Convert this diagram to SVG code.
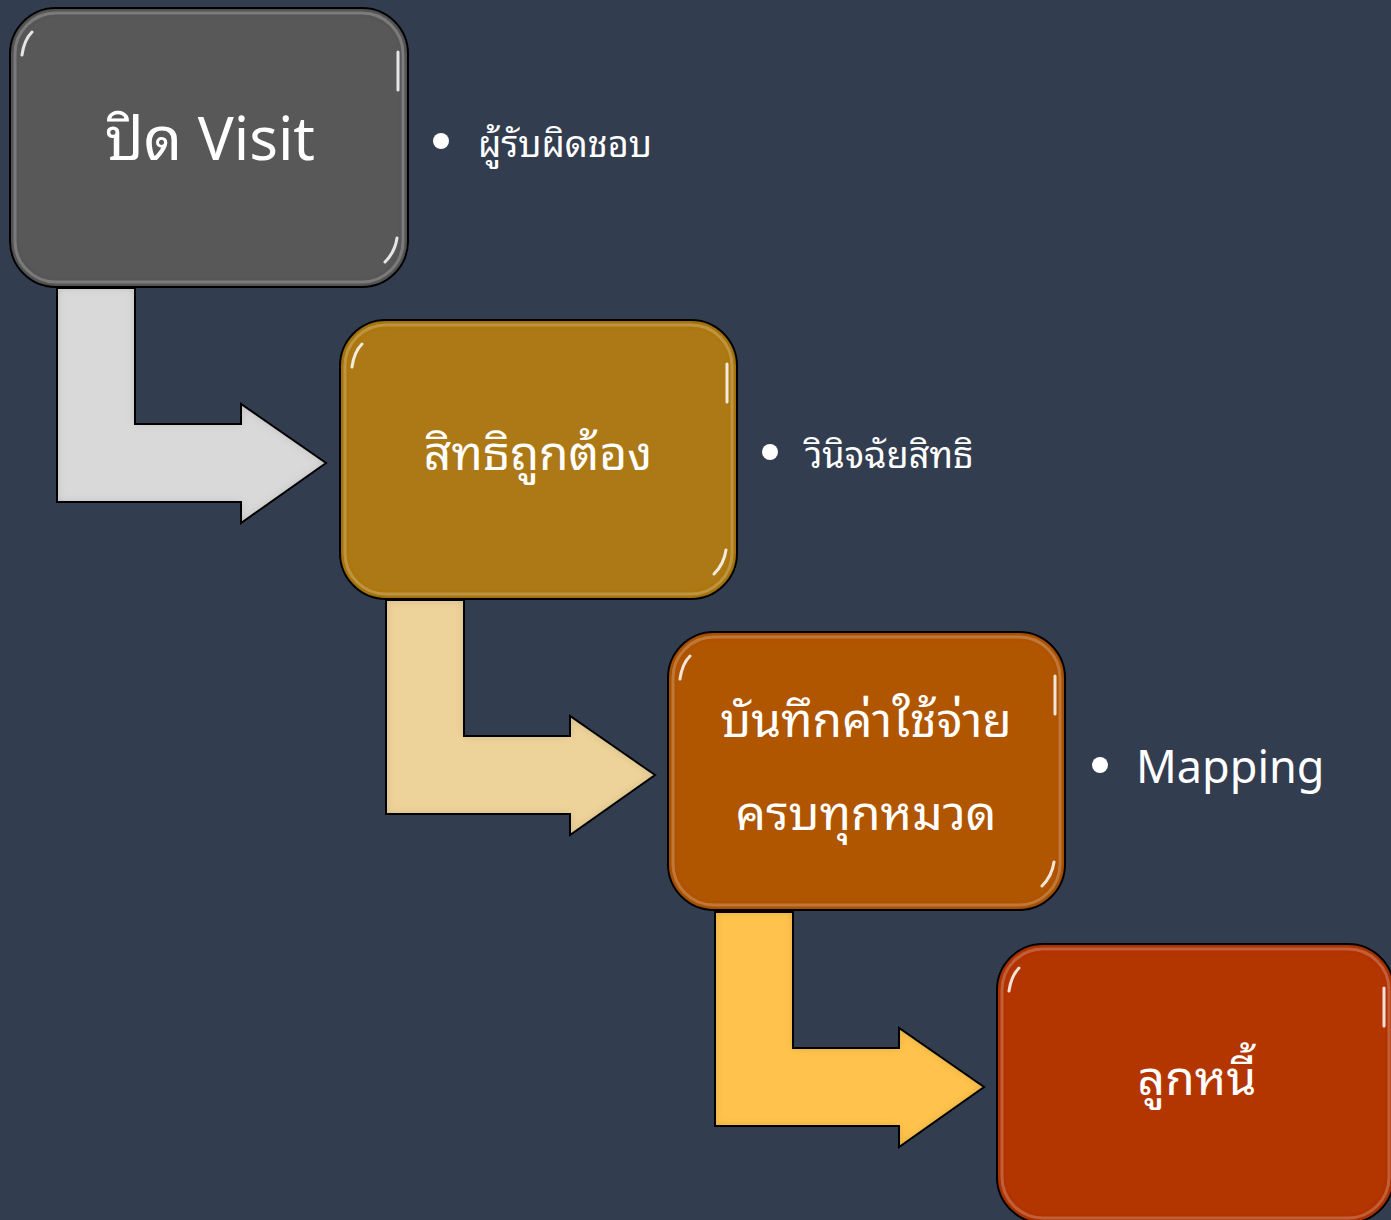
<svg xmlns="http://www.w3.org/2000/svg" width="1391" height="1220" viewBox="0 0 1391 1220">
<defs>
<style>
.box{stroke:#111;stroke-width:2}
.hl{fill:none;stroke:#fff;stroke-opacity:0.22;stroke-width:3}
.sp{fill:none;stroke:#fff;stroke-opacity:0.85;stroke-width:3;stroke-linecap:round}
.arr{stroke:#111;stroke-width:2;stroke-linejoin:miter}
.t{fill:#fff;font-family:"Noto Sans Thai Looped","Noto Sans","Noto Sans Thai","DejaVu Sans",sans-serif;text-anchor:middle}
.b{fill:#fff;font-family:"Noto Sans Thai Looped","Noto Sans","Noto Sans Thai","DejaVu Sans",sans-serif}
</style>
<filter id="bev" x="-5%" y="-5%" width="110%" height="110%">
<feGaussianBlur in="SourceAlpha" stdDeviation="5" result="b"/>
<feComposite in="SourceAlpha" in2="b" operator="arithmetic" k2="1" k3="-1" result="edge"/>
<feFlood flood-color="#000" flood-opacity="0.35"/>
<feComposite in2="edge" operator="in" result="sh"/>
<feMerge><feMergeNode in="SourceGraphic"/><feMergeNode in="sh"/></feMerge>
</filter>
</defs>
<rect width="1391" height="1220" fill="#333d50"/>
<g id="connectors">
<path class="arr" filter="url(#bev)" fill="#d9d9d9" d="M57 288 H135 V424 H241 V404 L326 463 L241 523 V502 H57 Z"/>
<path class="arr" filter="url(#bev)" fill="#edd39a" d="M386 600 H464 V736 H570 V716 L655 775 L570 835 V814 H386 Z"/>
<path class="arr" filter="url(#bev)" fill="#ffc34d" d="M715 912 H793 V1048 H899 V1028 L984 1087 L899 1147 V1126 H715 Z"/>
</g>
<g id="n1">
<rect class="box" x="10" y="8" width="398" height="279" rx="46" fill="#595959" filter="url(#bev)"/>
<rect class="hl" x="15" y="13" width="388" height="269" rx="41"/>
<path class="sp" d="M22 55 Q24 40 32 32 M398 52 V90 M397 238 Q395 252 385 262"/>
<text class="t" x="210" y="160" font-size="60">ปิด Visit</text>
</g>
<g id="n2">
<rect class="box" x="340" y="320" width="397" height="279" rx="46" fill="#ad7812" filter="url(#bev)"/>
<rect class="hl" x="345" y="325" width="387" height="269" rx="41"/>
<path class="sp" d="M352 367 Q354 352 362 344 M727 364 V402 M726 550 Q724 564 714 574"/>
<text class="t" x="538" y="470" font-size="48">สิทธิถูกต้อง</text>
</g>
<g id="n3">
<rect class="box" x="668" y="632" width="397" height="278" rx="46" fill="#b05500" filter="url(#bev)"/>
<rect class="hl" x="673" y="637" width="387" height="268" rx="41"/>
<path class="sp" d="M680 679 Q682 664 690 656 M1055 676 V714 M1054 862 Q1052 876 1042 886"/>
<text class="t" x="866" y="737" font-size="48">บันทึกค่าใช้จ่าย</text>
<text class="t" x="866" y="830" font-size="48">ครบทุกหมวด</text>
</g>
<g id="n4">
<rect class="box" x="997" y="944" width="397" height="279" rx="46" fill="#b33500" filter="url(#bev)"/>
<rect class="hl" x="1002" y="949" width="387" height="269" rx="41"/>
<path class="sp" d="M1009 991 Q1011 976 1019 968 M1384 988 V1026"/>
<text class="t" x="1197" y="1095" font-size="48">ลูกหนี้</text>
</g>
<g id="notes">
<circle cx="441" cy="141" r="8" fill="#fff"/>
<text class="b" x="478" y="157" font-size="36">ผู้รับผิดชอบ</text>
<circle cx="770" cy="452" r="8" fill="#fff"/>
<text class="b" x="805" y="468" font-size="36">วินิจฉัยสิทธิ</text>
<circle cx="1100" cy="765" r="8" fill="#fff"/>
<text class="b" x="1136" y="783" font-size="45">Mapping</text>
</g>
</svg>
